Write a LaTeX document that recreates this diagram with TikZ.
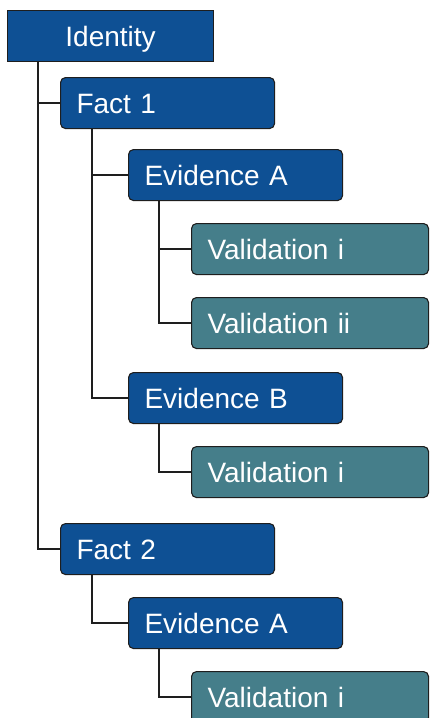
\documentclass[tikz,border=0pt]{standalone}
\usepackage{fontspec}
\setmainfont{Liberation Sans}
\definecolor{boxblue}{HTML}{0E5094}
\definecolor{boxteal}{HTML}{457E8A}
\definecolor{edge}{HTML}{1E1E1E}
\begin{document}
\begin{tikzpicture}[x=1pt,y=-1pt,
  base/.style={draw=edge, line width=1.1pt, anchor=north west, text=white,
    font=\fontsize{28}{32}\selectfont, text height=20pt, text depth=0pt,
    minimum height=51pt, inner ysep=0pt, inner xsep=16pt},
  topbox/.style={base, fill=boxblue, rounded corners=0pt, minimum width=206pt, align=center},
  bluebox/.style={base, fill=boxblue, rounded corners=5pt, text width=182pt, align=left},
  tealbox/.style={base, fill=boxteal, rounded corners=5pt, text width=205pt, align=left},
  conn/.style={draw=edge, line width=1.4pt}]
\useasboundingbox (0,0) rectangle (429,718);
\clip (0,0) rectangle (429,718);
\node[topbox]  (id)   at (7,10)   {Identity};
\node[bluebox] (f1)   at (60,77)  {Fact 1};
\node[bluebox] (ea1)  at (128,149) {Evidence A};
\node[tealbox] (v1)   at (191,223) {Validation i};
\node[tealbox] (v2)   at (191,297) {Validation ii};
\node[bluebox] (eb1)  at (128,372) {Evidence B};
\node[tealbox] (v3)   at (191,446) {Validation i};
\node[bluebox] (f2)   at (60,523) {Fact 2};
\node[bluebox] (ea2)  at (128,597) {Evidence A};
\node[tealbox] (v4)   at (191,671) {Validation i};
\draw[conn] ([xshift=31]id.south west) |- (f1.west);
\draw[conn] ([xshift=31]id.south west) |- (f2.west);
\draw[conn] ([xshift=32]f1.south west) |- (ea1.west);
\draw[conn] ([xshift=32]f1.south west) |- (eb1.west);
\draw[conn] ([xshift=31]ea1.south west) |- (v1.west);
\draw[conn] ([xshift=31]ea1.south west) |- (v2.west);
\draw[conn] ([xshift=31]eb1.south west) |- (v3.west);
\draw[conn] ([xshift=32]f2.south west) |- (ea2.west);
\draw[conn] ([xshift=31]ea2.south west) |- (v4.west);
\end{tikzpicture}
\end{document}
